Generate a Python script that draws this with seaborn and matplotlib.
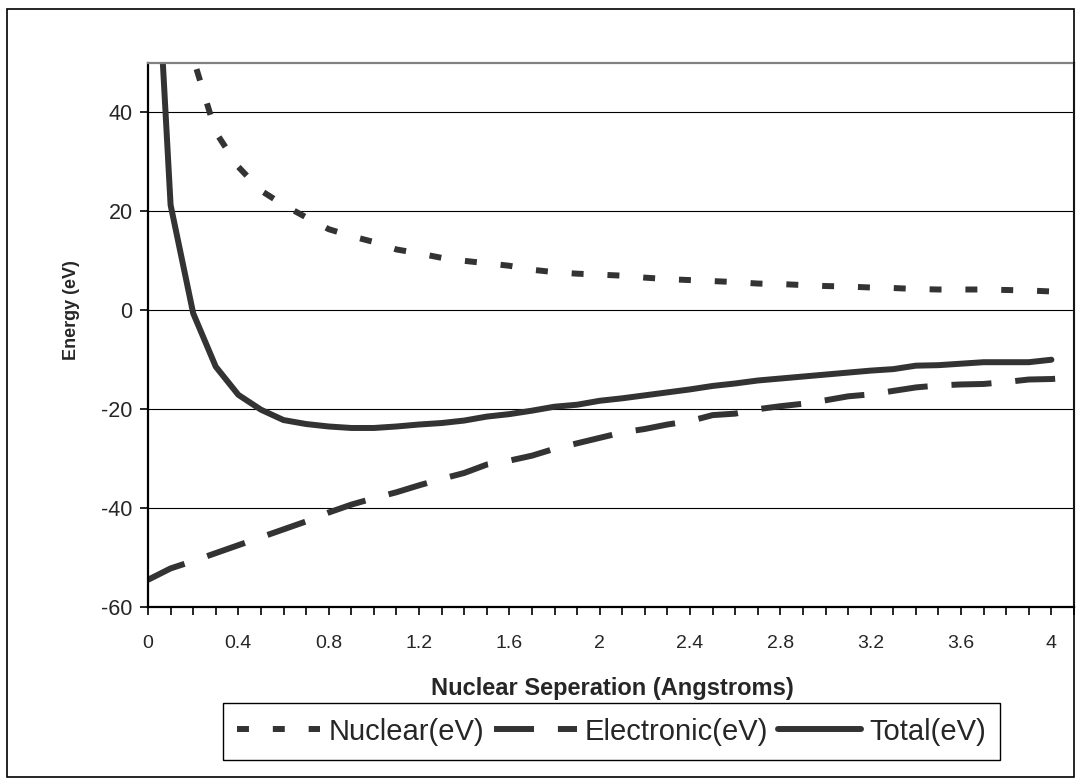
import numpy as np
import pandas as pd
import matplotlib
matplotlib.use("Agg")
import matplotlib.pyplot as plt
import matplotlib.ticker as mticker
from matplotlib.patches import Rectangle
import seaborn as sns

# data
separation = [0.0, 0.1, 0.2, 0.3, 0.4, 0.5, 0.6, 0.7, 0.8, 0.9,
              1.0, 1.1, 1.2, 1.3, 1.4, 1.5, 1.6, 1.7, 1.8, 1.9,
              2.0, 2.1, 2.2, 2.3, 2.4, 2.5, 2.6, 2.7, 2.8, 2.9,
              3.0, 3.1, 3.2, 3.3, 3.4, 3.5, 3.6, 3.7, 3.8, 3.9,
              4.0, 4.1]
nuclear = [np.nan, 75, 51, 36, 29, 24.2, 21.3, 18.8, 16.4, 15.0,
           13.8, 12.3, 11.5, 10.6, 10.0, 9.5, 9.0, 8.2, 7.7, 7.4,
           7.2, 7.0, 6.6, 6.3, 6.1, 5.9, 5.7, 5.4, 5.3, 5.1,
           4.9, 4.8, 4.6, 4.5, 4.3, 4.2, 4.2, 4.2, 4.1, 4.0,
           3.8, np.nan]
electronic = [-54.5, -52.2, -50.7, -49.1, -47.5, -45.9, -44.3, -42.7, -40.9, -39.3,
              -38.0, -36.8, -35.4, -34.1, -32.9, -31.2, -30.4, -29.4, -28.0, -26.9,
              -25.8, -24.7, -24.0, -23.1, -22.4, -21.2, -20.9, -20.0, -19.4, -18.9,
              -18.2, -17.4, -17.0, -16.3, -15.6, -15.2, -15.0, -14.9, -14.5, -14.0,
              -13.9, -13.6]
total = [105, 21.3, -0.6, -11.4, -17.1, -20.1, -22.2, -23.0, -23.5, -23.8,
         -23.8, -23.5, -23.1, -22.8, -22.3, -21.5, -21.0, -20.3, -19.5, -19.1,
         -18.3, -17.8, -17.2, -16.6, -16.0, -15.3, -14.8, -14.2, -13.8, -13.4,
         -13.0, -12.6, -12.2, -11.9, -11.2, -11.1, -10.8, -10.5, -10.5, -10.5,
         -10.0, np.nan]

df = pd.DataFrame({"sep": separation, "Nuclear(eV)": nuclear,
                   "Electronic(eV)": electronic, "Total(eV)": total})

sns.set_style("white")
plt.rcParams["font.family"] = ["Liberation Sans", "DejaVu Sans"]
plt.rcParams["axes.unicode_minus"] = False

LINE = "#333333"
LW = 4.3

fig = plt.figure(figsize=(10.8, 7.84), dpi=100)
ax = fig.add_axes([148 / 1080, 1 - 607 / 784, (1074 - 148) / 1080, (607 - 63) / 784])

styles = {
    "Nuclear(eV)": (0, (2, 4)),
    "Electronic(eV)": (0, (6.7, 4)),
    "Total(eV)": "-",
}
for name, ls in styles.items():
    sns.lineplot(data=df, x="sep", y=name, ax=ax, estimator=None, sort=False,
                 color=LINE, linewidth=LW, linestyle=ls, label=name)
for line in ax.get_lines():
    line.set_dash_capstyle("butt")
    line.set_solid_capstyle("round")

ax.set_xlim(0, 4.1)
ax.set_ylim(-60, 50)
ax.xaxis.set_major_locator(mticker.MultipleLocator(0.4))
ax.xaxis.set_minor_locator(mticker.MultipleLocator(0.1))
ax.xaxis.set_major_formatter(mticker.FormatStrFormatter("%g"))
ax.yaxis.set_major_locator(mticker.MultipleLocator(20))

ax.grid(axis="y", color="black", linewidth=0.8)
ax.grid(axis="x", visible=False)

ax.tick_params(axis="x", which="both", direction="out", length=6, width=1.2,
               color="black", labelsize=14, pad=14, bottom=True)
ax.tick_params(axis="y", which="major", direction="out", length=6, width=1.2,
               color="black", labelsize=15.5, pad=5, left=True)

for side in ["left", "bottom"]:
    ax.spines[side].set_color("black")
    ax.spines[side].set_linewidth(1.6)
for side in ["top", "right"]:
    ax.spines[side].set_color("#808080")
    ax.spines[side].set_linewidth(1.6)

ax.set_xlabel("Nuclear Seperation (Angstroms)", fontsize=17, fontweight="bold")
ax.set_ylabel("Energy (eV)", fontsize=13, fontweight="bold")
ax.xaxis.label.set_va("center")
ax.yaxis.label.set_va("center")
ax.xaxis.set_label_coords((612 - 148) / 926, (607 - 689) / 544)
ax.yaxis.set_label_coords((72 - 148) / 926, (607 - 310) / 544)

leg = ax.legend(loc="center", bbox_to_anchor=(611.5 / 1080, 1 - 731.5 / 784),
                bbox_transform=fig.transFigure, ncol=3, fontsize=21,
                frameon=True, fancybox=False, framealpha=1, edgecolor="black",
                handlelength=2.85, handletextpad=0.28, columnspacing=0.32,
                borderpad=0.5, borderaxespad=0)
leg.get_frame().set_linewidth(1.0)

fig.add_artist(Rectangle((7 / 1080, 1 - 777 / 784), (1074 - 7) / 1080, (777 - 9) / 784,
                         transform=fig.transFigure, fill=False,
                         edgecolor="black", linewidth=1.2))

fig.savefig("out.png", dpi=100)
